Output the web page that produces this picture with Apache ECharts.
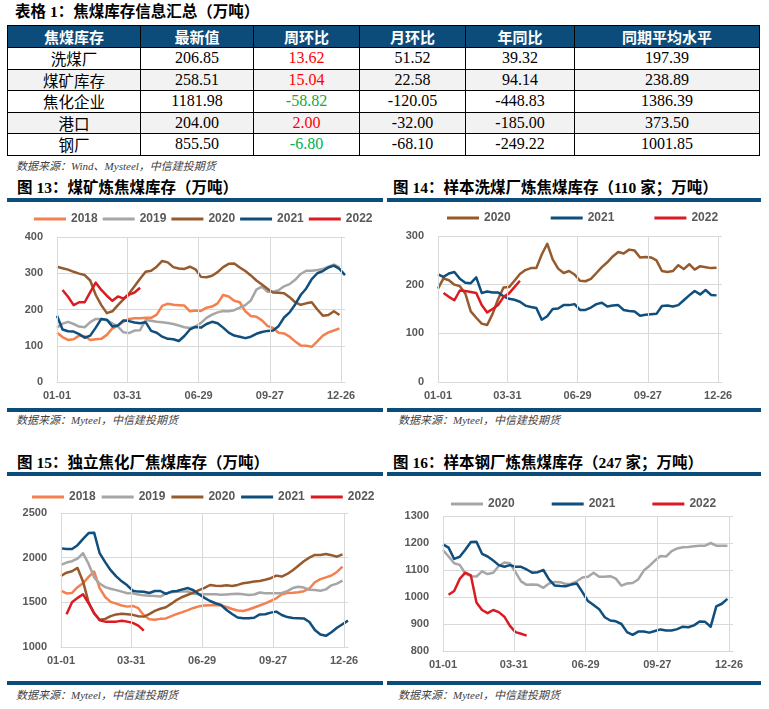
<!DOCTYPE html>
<html>
<head>
<meta charset="utf-8">
<script src="https://cdn.jsdelivr.net/npm/echarts@6/dist/echarts.min.js"></script>
<style>
  body { margin: 0; width: 769px; height: 709px; background: #fff; position: relative; overflow: hidden;
         font-family: "Liberation Serif", "Noto Sans CJK SC", serif; }
  .title { position: absolute; font-weight: bold; font-size: 15.5px; line-height: 18px; color: #000; white-space: nowrap;
           font-family: "Liberation Serif", "Noto Sans CJK SC", serif; }
  .src { position: absolute; font-style: italic; font-size: 11px; line-height: 14px; color: #404040; white-space: nowrap; }
  .bar { position: absolute; height: 4px; background: #0c4c7b; }
  .chart { position: absolute; }
  #tbl { position: absolute; left: 7px; top: 25px; width: 752px; border-collapse: collapse; table-layout: fixed; }
  #tbl td, #tbl th { border: 1px solid #000; padding: 0; text-align: center; white-space: nowrap; }
  #tbl th { background: #0c4c7b; color: #fff; font-family: "Noto Sans CJK SC", sans-serif; font-size: 15px; font-weight: bold; height: 20px; }
  #tbl td { font-size: 16px; height: 20.5px; line-height: 18px; }
  #tbl td.name { font-family: "Noto Sans CJK SC", sans-serif; font-size: 15.5px; }
  #tbl tr.alt td { background: #f2f2f2; }
</style>
</head>
<body>
<div class="title" style="left:15px;top:3px;">表格 1：焦煤库存信息汇总（万吨）</div>
<table id="tbl"></table>
<div class="src" style="left:16px;top:159px;">数据来源：Wind、Mysteel，中信建投期货</div>

<div class="title" style="left:17px;top:179px;">图 13：煤矿炼焦煤库存（万吨）</div>
<div class="title" style="left:393px;top:179px;">图 14：样本洗煤厂炼焦煤库存（110 家；万吨）</div>
<div class="bar" style="left:7px;top:198px;width:376px;"></div>
<div class="bar" style="left:387px;top:198px;width:374px;"></div>
<div id="c13" class="chart" style="left:0;top:203px;width:385px;height:205px;"></div>
<div id="c14" class="chart" style="left:385px;top:203px;width:384px;height:205px;"></div>
<div class="bar" style="left:7px;top:408px;width:376px;"></div>
<div class="bar" style="left:387px;top:408px;width:374px;"></div>
<div class="src" style="left:16px;top:413px;">数据来源：Myteel，中信建投期货</div>
<div class="src" style="left:398px;top:413px;">数据来源：Myteel，中信建投期货</div>

<div class="title" style="left:17px;top:454px;">图 15：独立焦化厂焦煤库存（万吨）</div>
<div class="title" style="left:393px;top:454px;">图 16：样本钢厂炼焦煤库存（247 家；万吨）</div>
<div class="bar" style="left:7px;top:472px;width:376px;"></div>
<div class="bar" style="left:387px;top:472px;width:374px;"></div>
<div id="c15" class="chart" style="left:0;top:478px;width:385px;height:203px;"></div>
<div id="c16" class="chart" style="left:385px;top:478px;width:384px;height:203px;"></div>
<div class="bar" style="left:7px;top:681px;width:376px;"></div>
<div class="bar" style="left:387px;top:681px;width:374px;"></div>
<div class="src" style="left:16px;top:688px;">数据来源：Myteel，中信建投期货</div>
<div class="src" style="left:398px;top:688px;">数据来源：Myteel，中信建投期货</div>

<script>
// 表格数据
var tableHead = ['焦煤库存', '最新值', '周环比', '月环比', '年同比', '同期平均水平']
var rowNames = ['洗煤厂', '煤矿库存', '焦化企业', '港口', '钢厂']
var latest = [206.85, 258.51, 1181.98, 204.00, 855.50]
var weekChg = [13.62, 15.04, -58.82, 2.00, -6.80]
var monthChg = [51.52, 22.58, -120.05, -32.00, -68.10]
var yearChg = [39.32, 94.14, -448.83, -185.00, -249.22]
var avgLevel = [197.39, 238.89, 1386.39, 373.50, 1001.85]

// x 轴刻度（一年中的天数）
var tickDays = [0, 89, 179, 269, 359]
var tickLabels = ['01-01', '03-31', '06-29', '09-27', '12-26']

// 图13 煤矿炼焦煤库存（周度）
var mine2018 = [136,124,116,118,128,126,116,118,119,130,148,155,166,174,176,176,177,177,186,210,216,213,212,211,195,197,196,205,208,217,240,236,224,220,195,182,180,170,155,149,136,134,125,112,101,100,97,112,128,137,142,148]
var mine2019 = [150,161,166,160,153,151,165,174,174,170,162,153,137,135,142,143,171,169,166,165,163,160,156,151,149,153,163,177,186,192,196,195,198,205,212,225,255,263,249,249,253,264,270,282,298,307,307,309,312,318,324,316]
var mine2020 = [318,314,310,304,299,295,280,240,212,190,195,212,228,244,264,285,304,307,318,334,330,317,313,312,318,311,290,289,293,303,317,326,327,316,306,294,280,269,257,247,246,245,234,220,213,217,220,200,183,185,195,185]
var mine2021 = [183,145,140,139,132,122,128,150,174,172,153,156,170,168,164,162,165,141,136,125,119,118,113,127,145,152,150,160,166,162,150,136,128,125,121,125,133,138,141,142,154,178,192,214,240,258,284,300,306,316,321,312,295]
var mine2022 = [null,254,235,212,220,220,248,274,254,238,224,236,230,241,247,260]

// 图14 样本洗煤厂炼焦煤库存
var wash2020 = [192,213,209,200,197,182,145,132,120,117,140,170,194,195,208,222,230,234,234,262,284,252,233,224,228,221,208,207,212,224,236,246,258,267,264,272,270,256,257,256,250,228,226,228,240,232,242,231,238,236,234,235]
var wash2021 = [221,216,223,226,212,204,203,215,183,186,184,184,176,171,169,165,157,154,152,128,135,150,151,158,158,160,148,148,153,160,163,155,157,158,148,146,145,136,138,139,140,156,157,155,158,168,178,187,180,189,179,178]
var wash2022 = [null,183,175,168,188,187,185,183,158,143,150,158,175,182,195,208]

// 图15 独立焦化厂焦煤库存
var coke2018 = [1630,1600,1605,1670,1715,1785,1845,1660,1560,1505,1485,1465,1452,1460,1435,1355,1310,1305,1315,1320,1345,1370,1390,1412,1437,1455,1465,1468,1469,1465,1448,1425,1408,1403,1420,1442,1465,1488,1515,1545,1590,1604,1608,1614,1625,1655,1725,1760,1780,1800,1840,1899]
var coke2019 = [1920,1945,1960,1990,2050,1930,1780,1710,1670,1652,1637,1620,1601,1601,1588,1578,1575,1572,1565,1598,1614,1619,1622,1622,1595,1590,1590,1590,1590,1585,1588,1592,1597,1590,1582,1588,1610,1601,1601,1601,1605,1625,1660,1675,1665,1640,1638,1630,1645,1690,1710,1743]
var coke2020 = [1795,1832,1848,1885,1731,1500,1375,1305,1315,1345,1365,1372,1366,1360,1345,1340,1368,1405,1428,1445,1485,1528,1560,1585,1610,1637,1662,1694,1685,1683,1692,1682,1695,1713,1722,1732,1739,1752,1770,1799,1788,1818,1860,1910,1960,2000,2030,2030,2041,2028,2011,2037]
var coke2021 = [2104,2097,2097,2140,2210,2275,2280,2050,1950,1860,1790,1735,1690,1630,1620,1619,1605,1627,1627,1595,1620,1627,1645,1660,1635,1590,1550,1515,1490,1470,1414,1370,1330,1321,1321,1328,1365,1366,1385,1396,1358,1335,1325,1322,1320,1280,1190,1140,1125,1165,1215,1255,1295]
var coke2022 = [null,1366,1500,1550,1590,1490,1380,1300,1284,1284,1284,1295,1284,1270,1240,1183]

// 图16 样本钢厂炼焦煤库存
var steel2020 = [1174,1150,1125,1119,1087,1077,1076,1095,1085,1090,1115,1128,1125,1092,1058,1045,1046,1045,1034,1050,1056,1055,1048,1049,1058,1072,1075,1090,1075,1075,1077,1068,1042,1050,1052,1065,1098,1115,1135,1152,1150,1170,1180,1184,1185,1188,1190,1190,1200,1190,1190,1190]
var steel2021 = [1195,1183,1141,1149,1175,1204,1205,1160,1150,1135,1118,1112,1118,1112,1112,1102,1090,1092,1100,1065,1043,1041,1040,1046,1050,1018,985,970,955,925,913,910,900,870,860,872,872,868,874,880,876,876,881,890,888,895,909,908,890,965,975,993]
var steel2022 = [null,1008,1022,1067,1090,1080,980,952,940,952,944,927,893,870,864,857]

var C_ORANGE = '#f4804f'
var C_GRAY = '#a6a6a6'
var C_BROWN = '#975a2d'
var C_BLUE = '#0f4e7d'
var C_RED = '#dc1a22'

function fmt(v) {
  return v.toFixed(2)
}

function buildTable() {
  var html = '<colgroup><col style="width:133px"><col style="width:113px"><col style="width:106px"><col style="width:106px"><col style="width:109px"><col style="width:185px"></colgroup>'
  html += '<tr>' + tableHead.map(function(h) { return '<th>' + h + '</th>' }).join('') + '</tr>'
  rowNames.forEach(function(name, i) {
    var wc = weekChg[i] >= 0 ? '#ff0000' : '#00b050'
    html += '<tr' + (i % 2 === 1 ? ' class="alt"' : '') + '>' +
      '<td class="name">' + name + '</td>' +
      '<td>' + fmt(latest[i]) + '</td>' +
      '<td style="color:' + wc + '">' + fmt(weekChg[i]) + '</td>' +
      '<td>' + fmt(monthChg[i]) + '</td>' +
      '<td>' + fmt(yearChg[i]) + '</td>' +
      '<td>' + fmt(avgLevel[i]) + '</td></tr>'
  })
  document.getElementById('tbl').innerHTML = html
}

// 周度数据 -> [天数, 值]
function toPairs(arr) {
  return arr.map(function(v, i) { return [i * 7, v] })
}

function labelFor(v) {
  var i = tickDays.indexOf(v)
  if (i < 0) {
    i = Math.round(v / 90)
    if (tickDays[i] === undefined || Math.abs(v - tickDays[i]) > 3) return ''
  }
  return tickLabels[i] || ''
}

function drawChart(id, cfg) {
  var chart = echarts.init(document.getElementById(id))
  var axisFont = { color: '#595959', fontWeight: 'bold', fontSize: 11, fontFamily: 'Liberation Sans, Arial, sans-serif' }
  var legendFont = Object.assign({}, axisFont, { fontSize: 12 })
  var series = [{
    name: 'vgrid',
    type: 'line',
    data: [],
    z: 1,
    silent: true,
    markLine: {
      silent: true,
      symbol: 'none',
      animation: false,
      label: { show: false },
      lineStyle: { color: '#d9d9d9', width: 1, type: 'solid' },
      data: tickDays.map(function(d) { return { xAxis: d } })
    }
  }]
  cfg.lines.forEach(function(s) {
    series.push({
      name: s.name,
      type: 'line',
      data: toPairs(s.data),
      showSymbol: false,
      symbol: 'none',
      color: s.color,
      lineStyle: { width: 2.5, color: s.color, join: 'round' },
      z: 2
    })
  })
  chart.setOption({
    animation: false,
    legend: {
      data: cfg.lines.map(function(s) { return s.name }),
      left: cfg.legendLeft,
      top: cfg.legendTop,
      icon: 'rect',
      itemWidth: 32,
      itemHeight: 3,
      itemGap: cfg.legendGap,
      textStyle: legendFont
    },
    grid: cfg.grid,
    xAxis: {
      type: 'value',
      min: 0,
      max: 364,
      interval: 90,
      splitLine: { show: false },
      axisTick: { show: false },
      axisLine: { show: true, lineStyle: { color: '#d9d9d9', width: 1 } },
      axisLabel: Object.assign({ customValues: tickDays, formatter: labelFor, margin: 8 }, axisFont)
    },
    yAxis: {
      type: 'value',
      min: cfg.yMin,
      max: cfg.yMax,
      interval: cfg.yStep,
      axisLine: { show: false },
      axisTick: { show: false },
      splitLine: { lineStyle: { color: '#d9d9d9', width: 1 } },
      axisLabel: Object.assign({ margin: 14, formatter: function(v) { return String(v) } }, axisFont)
    },
    series: series
  })
}

buildTable()

drawChart('c13', {
  grid: { left: 57, right: 40, top: 34, bottom: 26 },
  legendLeft: 29, legendTop: 5, legendGap: 5,
  yMin: 0, yMax: 400, yStep: 100,
  lines: [
    { name: '2018', data: mine2018, color: C_ORANGE },
    { name: '2019', data: mine2019, color: C_GRAY },
    { name: '2020', data: mine2020, color: C_BROWN },
    { name: '2021', data: mine2021, color: C_BLUE },
    { name: '2022', data: mine2022, color: C_RED }
  ]
})

drawChart('c14', {
  grid: { left: 53, right: 47, top: 33, bottom: 26 },
  legendLeft: 57, legendTop: 4, legendGap: 40,
  yMin: 0, yMax: 300, yStep: 100,
  lines: [
    { name: '2020', data: wash2020, color: C_BROWN },
    { name: '2021', data: wash2021, color: C_BLUE },
    { name: '2022', data: wash2022, color: C_RED }
  ]
})

drawChart('c15', {
  grid: { left: 61, right: 37, top: 35, bottom: 34 },
  legendLeft: 27, legendTop: 8, legendGap: 6,
  yMin: 1000, yMax: 2500, yStep: 500,
  lines: [
    { name: '2018', data: coke2018, color: C_ORANGE },
    { name: '2019', data: coke2019, color: C_GRAY },
    { name: '2020', data: coke2020, color: C_BROWN },
    { name: '2021', data: coke2021, color: C_BLUE },
    { name: '2022', data: coke2022, color: C_RED }
  ]
})

drawChart('c16', {
  grid: { left: 58, right: 36, top: 38, bottom: 30 },
  legendLeft: 61, legendTop: 15, legendGap: 37,
  yMin: 800, yMax: 1300, yStep: 100,
  lines: [
    { name: '2020', data: steel2020, color: C_GRAY },
    { name: '2021', data: steel2021, color: C_BLUE },
    { name: '2022', data: steel2022, color: C_RED }
  ]
})
</script>
</body>
</html>
